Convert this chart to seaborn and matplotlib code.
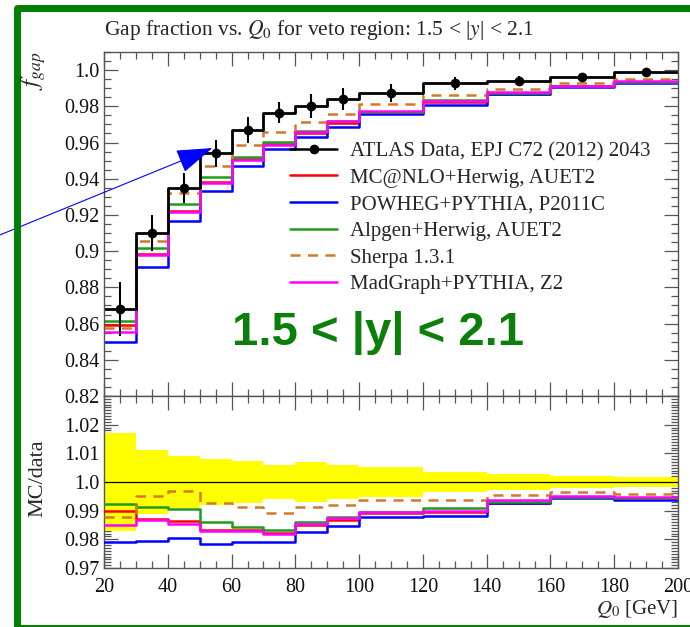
import numpy as np
import pandas as pd
import matplotlib
matplotlib.use("Agg")
import matplotlib.pyplot as plt
import seaborn as sns
from matplotlib.ticker import MultipleLocator, FuncFormatter
from matplotlib.lines import Line2D
from matplotlib.patches import Rectangle, FancyArrowPatch

# Bin edges in Q0 [GeV]
q0_edges = [20, 30, 40, 50, 60, 70, 80, 90, 100, 120, 140, 160, 180, 200]
q0_centres = [25, 35, 45, 55, 65, 75, 85, 95, 110, 130, 150, 170, 190]

# Measured gap fraction and total uncertainty
gap_data = [0.868, 0.910, 0.935, 0.954, 0.967, 0.9765, 0.980, 0.984,
            0.9875, 0.9927, 0.9941, 0.9963, 0.9991]
gap_err = [0.0148, 0.0100, 0.0084, 0.0076, 0.0070, 0.0059, 0.0067, 0.0059,
           0.0051, 0.0035, 0.0028, 0.0020, 0.0017]

# Generator predictions
mcnlo = [0.8591, 0.8982, 0.9223, 0.9381, 0.9507, 0.9590, 0.9653, 0.9710,
         0.9767, 0.9823, 0.9869, 0.9910, 0.9933]
powheg = [0.8498, 0.8914, 0.9166, 0.9334, 0.9468, 0.9562, 0.9629, 0.9688,
          0.9755, 0.9810, 0.9867, 0.9906, 0.9928]
alpgen = [0.8612, 0.9020, 0.9261, 0.9407, 0.9519, 0.9601, 0.9664, 0.9721,
          0.9771, 0.9836, 0.9872, 0.9910, 0.9934]
sherpa = [0.8573, 0.9056, 0.9321, 0.9469, 0.9587, 0.9660, 0.9716, 0.9760,
          0.9813, 0.9864, 0.9896, 0.9929, 0.9949]
madgraph = [0.8551, 0.8978, 0.9214, 0.9376, 0.9504, 0.9588, 0.9658, 0.9717,
            0.9773, 0.9828, 0.9878, 0.9914, 0.9938]

legend_labels = ["ATLAS Data, EPJ C72 (2012) 2043",
                 "MC@NLO+Herwig, AUET2",
                 "POWHEG+PYTHIA, P2011C",
                 "Alpgen+Herwig, AUET2",
                 "Sherpa 1.3.1",
                 "MadGraph+PYTHIA, Z2"]

sns.set_theme(style="ticks")
plt.rcParams.update({
    "font.family": ["Liberation Serif", "DejaVu Serif"],
    "mathtext.fontset": "stix",
    "axes.edgecolor": "#555555",
    "axes.linewidth": 1.0,
    "xtick.color": "#555555",
    "ytick.color": "#555555",
    "xtick.labelcolor": "#111111",
    "ytick.labelcolor": "#111111",
})

W, H = 690, 627
fig = plt.figure(figsize=(W / 100, H / 100), dpi=100)
fig.patch.set_facecolor("white")

left, right = 104 / W, 678 / W
ax = fig.add_axes([left, 1 - 396 / H, right - left, (396 - 52) / H])
rx = fig.add_axes([left, 1 - 568 / H, right - left, (568 - 396) / H], sharex=ax)

edges = np.array(q0_edges, dtype=float)
data = np.array(gap_data)

def step_frame(values):
    v = np.asarray(values, dtype=float)
    return pd.DataFrame({"Q0": edges, "val": np.append(v, v[-1])})

series = [
    (mcnlo, "#ff0000", "-", 1.8),
    (powheg, "#0000ff", "-", 1.8),
    (alpgen, "#1f9a1f", "-", 1.8),
    (sherpa, "#d4782a", (0, (4, 3)), 1.8),
    (madgraph, "#ff00ff", "-", 1.8),
]

# Main panel: MC predictions
for vals, col, ls, lw in series:
    sns.lineplot(data=step_frame(vals), x="Q0", y="val", ax=ax, color=col,
                 linestyle=ls, linewidth=lw, drawstyle="steps-post",
                 estimator=None, sort=False, legend=False)

# Main panel: data
sns.lineplot(data=step_frame(data), x="Q0", y="val", ax=ax, color="black",
             linewidth=2.0, drawstyle="steps-post", estimator=None,
             sort=False, legend=False)
ax.errorbar(q0_centres, data, yerr=gap_err, fmt="o", color="black",
            markersize=6, elinewidth=1.5, capsize=0, zorder=5)

# Ratio panel
rel = np.array(gap_err) / data
rel_step = np.append(rel, rel[-1])
rx.fill_between(edges, 1 - rel_step, 1 + rel_step, step="post",
                color="#ffff00", linewidth=0, zorder=1)
rx.axhline(1.0, color="black", linewidth=0.9, zorder=2)
for vals, col, ls, lw in series:
    sns.lineplot(data=step_frame(np.array(vals) / data), x="Q0", y="val",
                 ax=rx, color=col, linestyle=ls, linewidth=lw,
                 drawstyle="steps-post", estimator=None, sort=False,
                 legend=False, zorder=3)

def fmt(v, pos):
    s = f"{v:.3f}".rstrip("0")
    if s.endswith("."):
        s += "0"
    return s

ax.set_xlim(20, 200)
ax.set_ylim(0.82, 1.01)
rx.set_ylim(0.97, 1.03)
ax.yaxis.set_major_locator(MultipleLocator(0.02))
ax.yaxis.set_minor_locator(MultipleLocator(0.005))
rx.yaxis.set_major_locator(MultipleLocator(0.01))
rx.yaxis.set_minor_locator(MultipleLocator(0.001))
rx.set_yticks([0.97, 0.98, 0.99, 1.0, 1.01, 1.02])
rx.xaxis.set_major_locator(MultipleLocator(20))
rx.xaxis.set_minor_locator(MultipleLocator(5))
for a in (ax, rx):
    a.yaxis.set_major_formatter(FuncFormatter(fmt))
    a.tick_params(which="both", direction="in", top=True, right=True,
                  width=0.9, labelsize=14.5)
    a.tick_params(which="major", length=10)
    a.tick_params(which="minor", length=5)
    a.set_xlabel("")
    a.set_ylabel("")
ax.tick_params(labelbottom=False)
rx.tick_params(axis="x", pad=7)

# Legend
handles = [Line2D([], [], color="black", marker="o", markersize=6, linewidth=1.8)]
for vals, col, ls, lw in series:
    handles.append(Line2D([], [], color=col, linestyle=ls, linewidth=lw))
ax.legend(handles, legend_labels, loc="upper left",
          bbox_to_anchor=((290 - 104) / 574, (396 - 141.5) / 344),
          frameon=False, fontsize=15, handlelength=2.26, handletextpad=0.62,
          labelspacing=0.34, borderpad=0, borderaxespad=0)

ax.text((378.5 - 104) / 574, (396 - 345) / 344, "1.5 < |y| < 2.1",
        transform=ax.transAxes, ha="center", va="baseline",
        fontsize=34, fontweight="bold", color="#0a800a",
        family="Liberation Sans")

# Titles and axis labels
fig.text(104 / W, 1 - 30 / H,
         r"Gap fraction vs. $Q_0$ for veto region: 1.5 < |$y$| < 2.1",
         ha="left", va="center", fontsize=15.5)
fig.text(34 / W, 1 - 52 / H, r"$f_{gap}$", rotation=90, ha="center",
         va="top", fontsize=18)
fig.text(38 / W, 1 - 478 / H, "MC/data", rotation=90, ha="center",
         va="center", fontsize=16)
fig.text(678 / W, 1 - 609 / H, r"$Q_0$ [GeV]", ha="right", va="center",
         fontsize=15)

# Pointer arrow
arrow = FancyArrowPatch((-10 / W, 1 - 239 / H), (215 / W, 1 - 147 / H),
                        transform=fig.transFigure,
                        arrowstyle="-|>,head_length=23,head_width=7.6",
                        mutation_scale=1, color="#0000ff", linewidth=0.8)
fig.add_artist(arrow)

# Surrounding frame
frame = Rectangle((16.5 / W, 1 - 628 / H), 720 / W, (628 - 7.5) / H,
                  transform=fig.transFigure, fill=False, edgecolor="#008000",
                  linewidth=5, joinstyle="round")
fig.add_artist(frame)

fig.savefig("out.png", dpi=100, facecolor="white")
